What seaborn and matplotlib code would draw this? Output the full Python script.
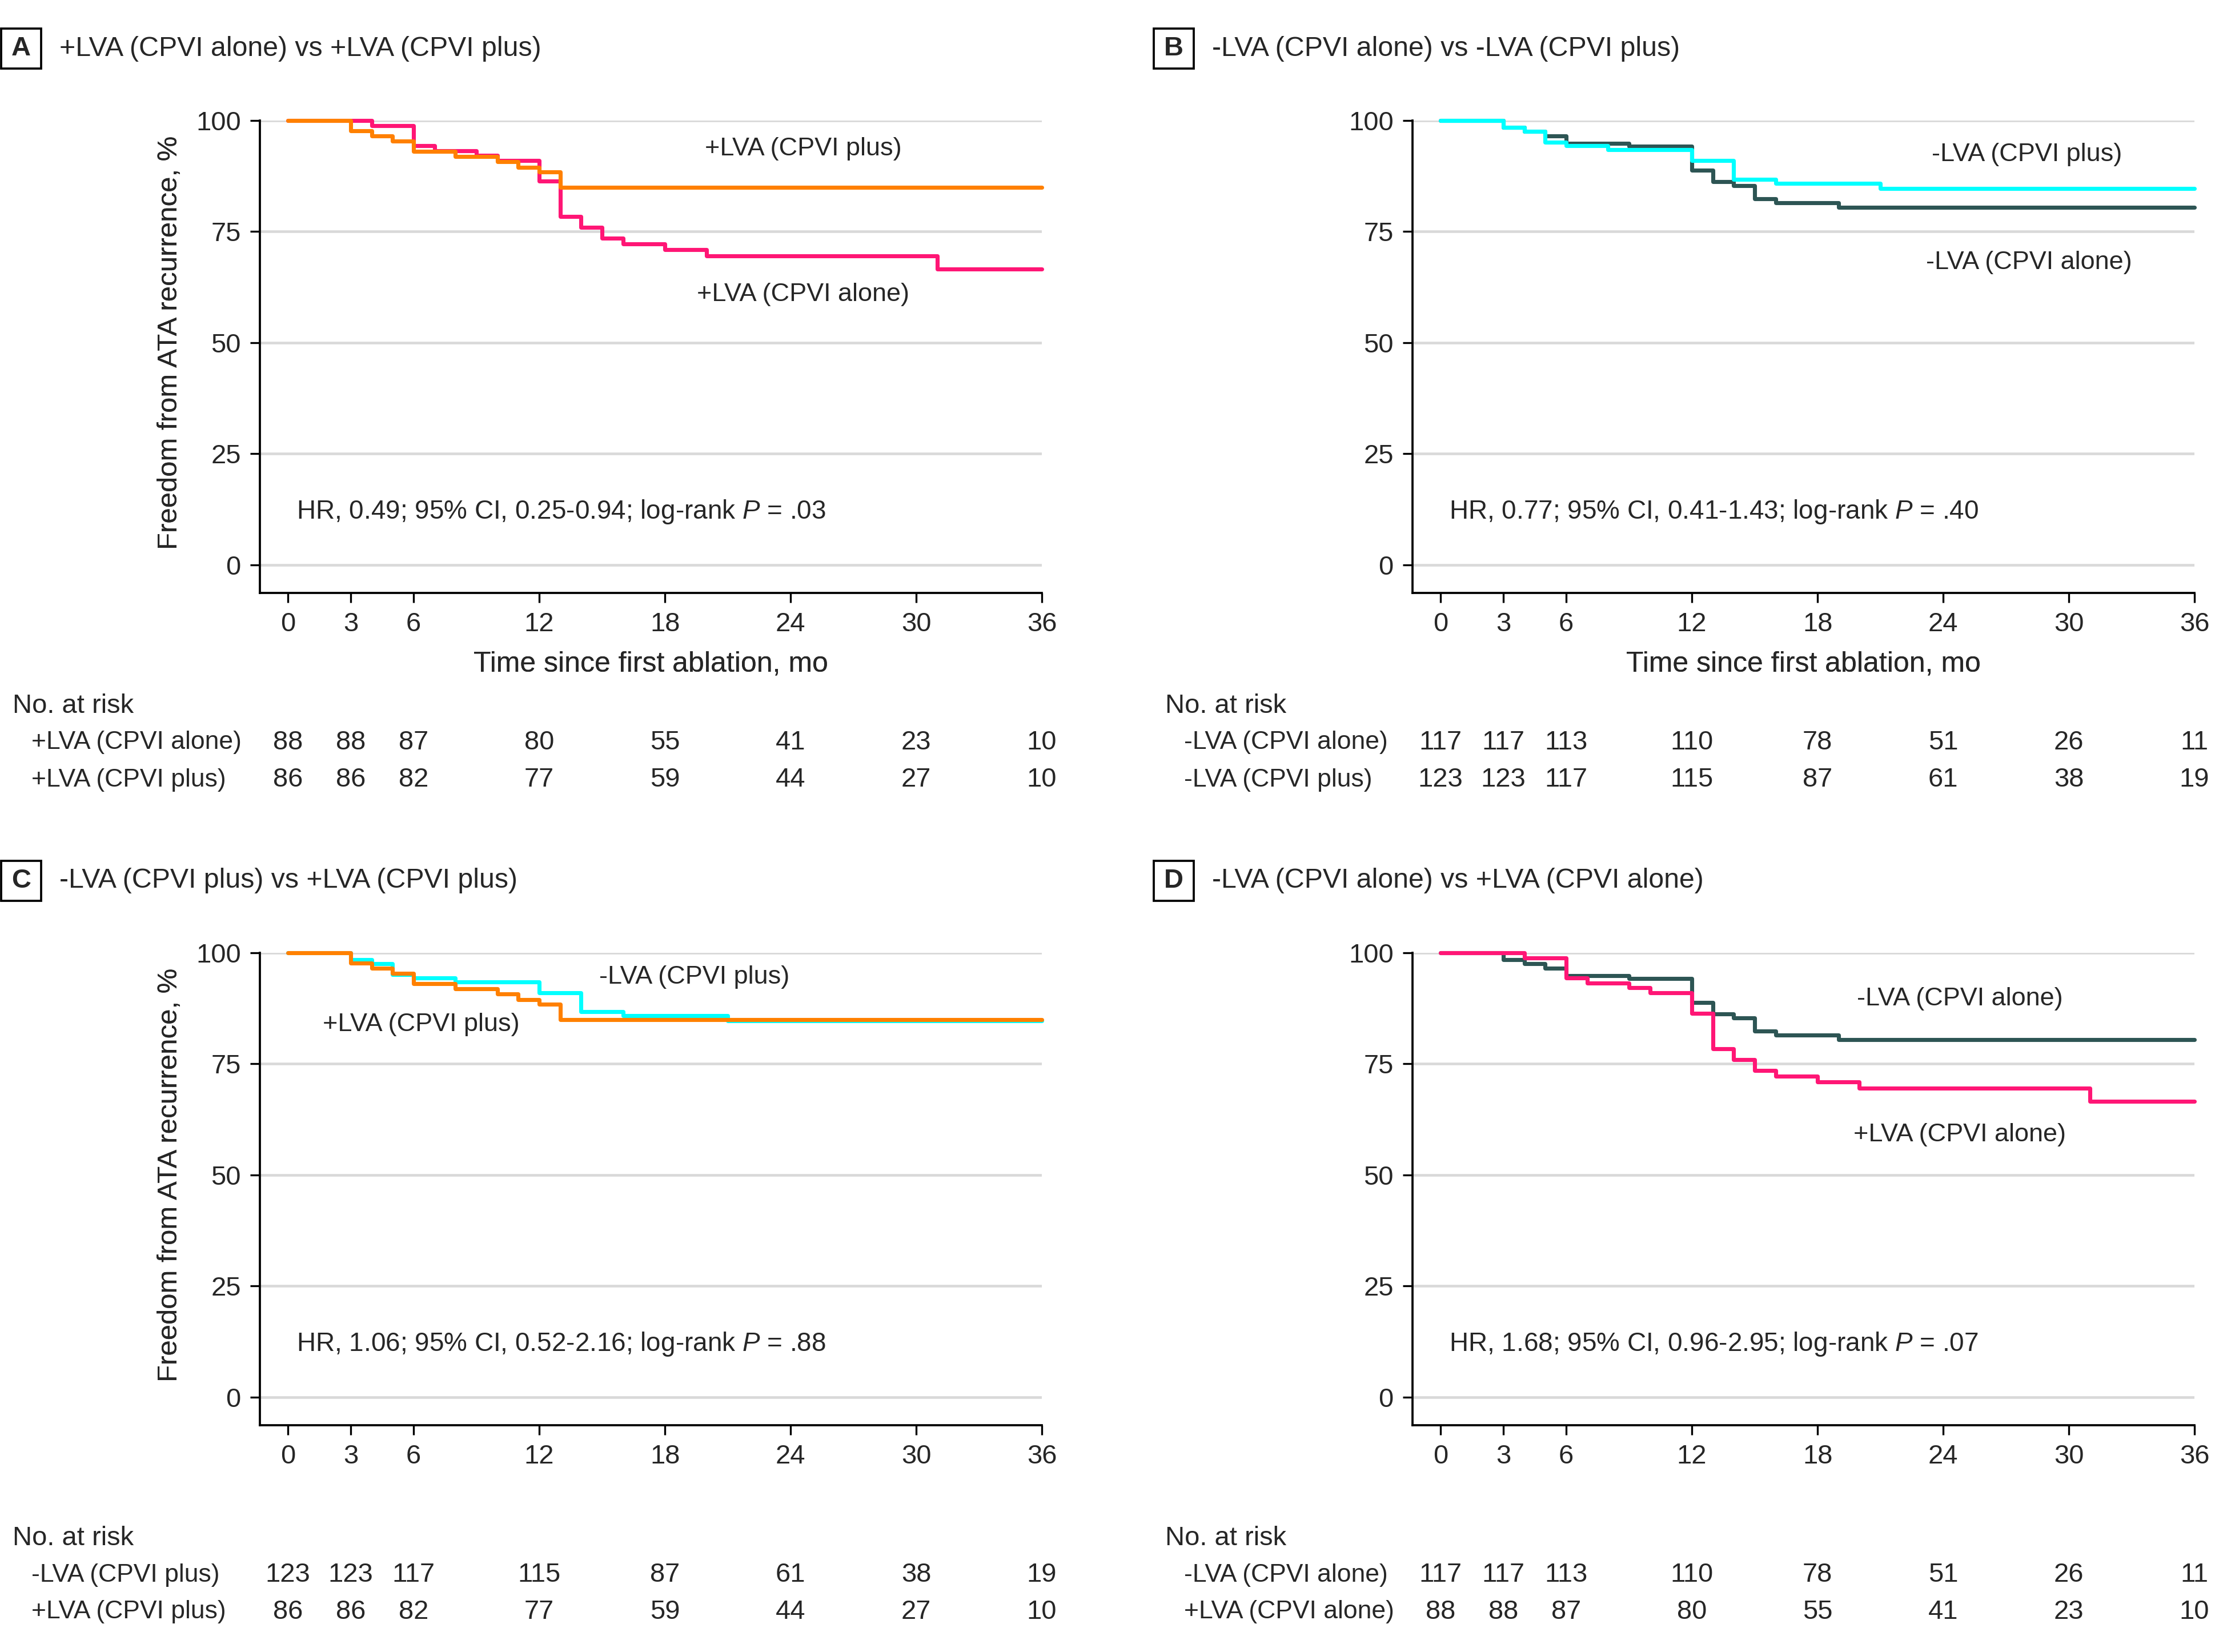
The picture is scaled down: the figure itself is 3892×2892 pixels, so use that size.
import numpy as np
import pandas as pd
import matplotlib
matplotlib.use("Agg")
import matplotlib.pyplot as plt
import seaborn as sns
from matplotlib.patches import Rectangle
from matplotlib.transforms import blended_transform_factory

# Kaplan-Meier step curves (month, % free from ATA recurrence)
alone_pos_t = [0, 4, 6, 7, 9, 10, 12, 13, 14, 15, 16, 18, 20, 31, 36]
alone_pos_s = [100, 98.9, 94.3, 93.2, 92.1, 91.0, 86.4, 78.4, 76.0, 73.5, 72.2, 70.9, 69.6, 66.6, 66.6]
plus_pos_t = [0, 3, 4, 5, 6, 8, 10, 11, 12, 13, 36]
plus_pos_s = [100, 97.7, 96.5, 95.4, 93.0, 91.9, 90.7, 89.5, 88.4, 84.9, 84.9]
alone_neg_t = [0, 3, 4, 5, 6, 9, 12, 13, 14, 15, 16, 19, 36]
alone_neg_s = [100, 98.4, 97.5, 96.5, 94.9, 94.2, 88.8, 86.3, 85.3, 82.4, 81.5, 80.5, 80.5]
plus_neg_t = [0, 3, 4, 5, 6, 8, 12, 14, 16, 21, 36]
plus_neg_s = [100, 98.4, 97.5, 95.1, 94.3, 93.5, 91.0, 86.7, 85.8, 84.7, 84.7]

risk_times = [0, 3, 6, 12, 18, 24, 30, 36]
risk_alone_pos = [88, 88, 87, 80, 55, 41, 23, 10]
risk_plus_pos = [86, 86, 82, 77, 59, 44, 27, 10]
risk_alone_neg = [117, 117, 113, 110, 78, 51, 26, 11]
risk_plus_neg = [123, 123, 117, 115, 87, 61, 38, 19]

AP = "+LVA (CPVI alone)"
PP = "+LVA (CPVI plus)"
AN = "-LVA (CPVI alone)"
PN = "-LVA (CPVI plus)"

curves = {
    AP: (alone_pos_t, alone_pos_s),
    PP: (plus_pos_t, plus_pos_s),
    AN: (alone_neg_t, alone_neg_s),
    PN: (plus_neg_t, plus_neg_s),
}
risk = {AP: risk_alone_pos, PP: risk_plus_pos, AN: risk_alone_neg, PN: risk_plus_neg}
colors = {AP: "#FF1675", PP: "#FF8000", AN: "#2D5554", PN: "#00FFFF"}

W, H = 3892, 2892
DPI = 300
FS = 11.3

sns.set_style("white")
plt.rcParams["font.family"] = ["Liberation Sans", "DejaVu Sans"]
plt.rcParams["font.size"] = FS
plt.rcParams["mathtext.fontset"] = "custom"
plt.rcParams["mathtext.rm"] = "Liberation Sans"
plt.rcParams["mathtext.it"] = "Liberation Sans:italic"

fig = plt.figure(figsize=(W / DPI, H / DPI), dpi=DPI)


def fx(px):
    return px / W


def fy(py):
    return 1 - py / H


panels = [
    dict(letter="A", title=f"{AP} vs {PP}", order=[AP, PP],
         labels=[(PP, 24.6, 93.6), (AP, 24.6, 60.8)],
         hr=("0.49", "0.25-0.94", ".03"), rows=[AP, PP],
         left=455, top=211, px0=0, py0=0),
    dict(letter="B", title=f"{AN} vs {PN}", order=[AN, PN],
         labels=[(PN, 28.0, 92.4), (AN, 28.1, 68.1)],
         hr=("0.77", "0.41-1.43", ".40"), rows=[AN, PN],
         left=2473, top=211, px0=2018, py0=0),
    dict(letter="C", title=f"{PN} vs {PP}", order=[PN, PP],
         labels=[(PN, 19.4, 94.5), (PP, 6.35, 83.9)],
         hr=("1.06", "0.52-2.16", ".88"), rows=[PN, PP],
         left=455, top=1668, px0=0, py0=1457),
    dict(letter="D", title=f"{AN} vs {AP}", order=[AN, AP],
         labels=[(AN, 24.8, 89.7), (AP, 24.8, 59.0)],
         hr=("1.68", "0.96-2.95", ".07"), rows=[AN, AP],
         left=2473, top=1668, px0=2018, py0=1457),
]

axw = 1369
axh = 827

for p in panels:
    left, top = p["left"], p["top"]
    ax = fig.add_axes([fx(left), fy(top + axh), fx(axw), axh / H])

    frames = []
    for g in p["order"]:
        t, s = curves[g]
        frames.append(pd.DataFrame({"month": t, "pct": s, "group": g}))
    df = pd.concat(frames, ignore_index=True)

    for y in [0, 25, 50, 75, 100]:
        ax.axhline(y, color="#d9d9d9", lw=1.1, zorder=0)

    sns.lineplot(data=df, x="month", y="pct", hue="group", hue_order=p["order"],
                 palette=colors, drawstyle="steps-post", estimator=None, sort=False,
                 legend=False, lw=1.7, clip_on=False, ax=ax)

    ax.set_xlim(-1.34, 36)
    ax.set_ylim(-6.3, 100)
    ax.set_xticks(risk_times)
    ax.set_yticks([0, 25, 50, 75, 100])
    sns.despine(ax=ax)
    for side in ["left", "bottom"]:
        ax.spines[side].set_color("black")
        ax.spines[side].set_linewidth(0.9)
    ax.tick_params(axis="both", direction="out", length=4, width=0.8, color="black",
                   labelsize=FS, left=True, bottom=True)
    ax.tick_params(axis="x", pad=4)
    ax.tick_params(axis="y", pad=4)
    ax.set_xlabel("Time since first ablation, mo", fontsize=12.0, va="center")
    ax.set_ylabel("Freedom from ATA recurrence, %", fontsize=11.8, va="center")
    ax.xaxis.set_label_coords(0.5, (top + axh - 1162) / axh)
    ax.yaxis.set_label_coords((298 - left) / axw, 0.53)

    for g, x, y in p["labels"]:
        ax.text(x, y, g, ha="center", va="center", fontsize=10.8)

    hr, ci, pv = p["hr"]
    ax.text(0.4, 12.0, f"HR, {hr}; 95% CI, {ci}; log-rank $\\it{{P}}$ = {pv}",
            ha="left", va="center", fontsize=11.0)

    # panel letter box and title
    bx, by = p["px0"] + 2, p["py0"] + 50
    fig.patches.append(Rectangle((fx(bx), fy(by + 70)), fx(70), 70 / H,
                                 transform=fig.transFigure, fill=False,
                                 ec="black", lw=0.9))
    fig.text(fx(bx + 35), fy(by + 35), p["letter"], ha="center", va="center",
             fontsize=FS, fontweight="bold")
    fig.text(fx(bx + 102), fy(by + 35), p["title"], ha="left", va="center",
             fontsize=11.6)

    # number at risk table
    tr = blended_transform_factory(ax.transData, fig.transFigure)
    ty = top + 1025
    fig.text(fx(left - 433), fy(ty), "No. at risk", ha="left", va="center", fontsize=FS)
    for i, g in enumerate(p["rows"]):
        yy = fy(ty + 64 + 65 * i)
        fig.text(fx(left - 400), yy, g, ha="left", va="center", fontsize=10.7)
        for t, n in zip(risk_times, risk[g]):
            ax.text(t, yy, str(n), transform=tr, ha="center", va="center", fontsize=FS)

fig.savefig("out.png", dpi=DPI)
